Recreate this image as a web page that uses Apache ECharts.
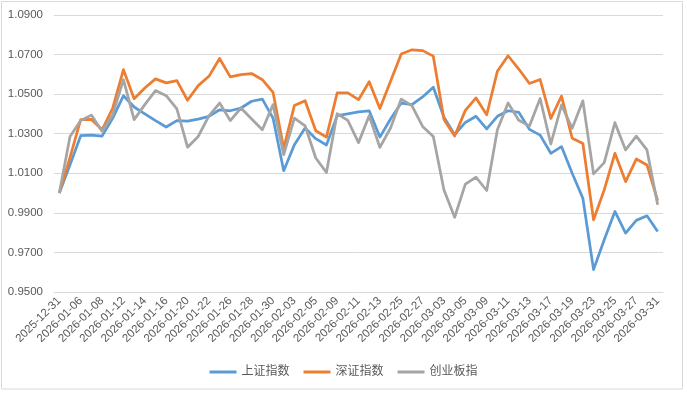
<!DOCTYPE html>
<html>
<head>
<meta charset="utf-8">
<script src="https://cdn.jsdelivr.net/npm/echarts@6/dist/echarts.min.js"></script>
<style>
html,body{margin:0;padding:0;background:#fff;}
#chart{width:687px;height:393px;}
</style>
</head>
<body>
<div id="chart"></div>
<script>
const dates = ['2025-12-31','2026-01-05','2026-01-06','2026-01-07','2026-01-08','2026-01-09','2026-01-12','2026-01-13','2026-01-14','2026-01-15','2026-01-16','2026-01-19','2026-01-20','2026-01-21','2026-01-22','2026-01-23','2026-01-26','2026-01-27','2026-01-28','2026-01-29','2026-01-30','2026-02-02','2026-02-03','2026-02-04','2026-02-05','2026-02-06','2026-02-09','2026-02-10','2026-02-11','2026-02-12','2026-02-13','2026-02-24','2026-02-25','2026-02-26','2026-02-27','2026-03-02','2026-03-03','2026-03-04','2026-03-05','2026-03-06','2026-03-09','2026-03-10','2026-03-11','2026-03-12','2026-03-13','2026-03-16','2026-03-17','2026-03-18','2026-03-19','2026-03-20','2026-03-23','2026-03-24','2026-03-25','2026-03-26','2026-03-27','2026-03-30','2026-03-31'];

const shIndex = [1.000,1.0143,1.029,1.0293,1.0288,1.0379,1.0492,1.0435,1.040,1.0366,
  1.0334,1.0366,1.0364,1.0374,1.0388,1.0421,1.0416,1.043,1.0464,1.0475,
  1.0379,1.0113,1.0244,1.0329,1.0275,1.0243,1.0391,1.040,1.041,1.0416,
  1.0283,1.0374,1.0455,1.0447,1.0486,1.0535,1.0383,1.0295,1.0357,1.0388,
  1.0324,1.0388,1.0416,1.0408,1.0322,1.0293,1.0201,1.0235,1.010,0.9974,
  0.9613,0.9764,0.9907,0.9798,0.9862,0.9885,0.9806];

const szIndex = [1.000,1.018,1.0371,1.0372,1.032,1.043,1.0624,1.0477,1.0531,1.0577,
  1.0557,1.0568,1.0469,1.0543,1.059,1.068,1.0587,1.0599,1.0604,1.0573,
  1.0509,1.0227,1.0442,1.0467,1.0315,1.0283,1.0506,1.0506,1.0472,1.0563,
  1.0427,1.0565,1.0703,1.0724,1.072,1.0692,1.0372,1.0288,1.0418,1.0481,
  1.0396,1.0616,1.0694,1.0627,1.0554,1.0574,1.0377,1.049,1.0277,1.0251,
  0.9865,1.0016,1.0201,1.0058,1.0172,1.0142,0.9962];

const cybIndex = [1.000,1.0286,1.0367,1.0394,1.0312,1.0396,1.0573,1.0371,1.0447,1.0518,
  1.0492,1.0425,1.0232,1.0286,1.039,1.0455,1.0366,1.043,1.0374,1.032,
  1.0447,1.0194,1.0379,1.034,1.0177,1.0104,1.0401,1.0367,1.0255,1.0391,
  1.0231,1.0329,1.0475,1.0442,1.0337,1.0286,1.0016,0.9878,1.0045,1.008,
  1.0013,1.032,1.0455,1.0368,1.0339,1.0478,1.0248,1.0445,1.0327,1.0466,
  1.0097,1.0154,1.0356,1.0218,1.0288,1.0218,0.9941];

const seriesNames = ['上证指数','深证指数','创业板指'];
const seriesColors = ['#5B9BD5','#ED7D31','#A5A5A5'];
const seriesData = [shIndex, szIndex, cybIndex];

const chart = echarts.init(document.getElementById('chart'), null, {renderer:'canvas'});
const font = '"Liberation Sans", Arial, "Noto Sans CJK SC", sans-serif';
chart.setOption({
  animation: false,
  textStyle: {fontFamily: font},
  grid: {left: 54, right: 24, top: 15, bottom: 101, containLabel: false},
  graphic: [{
    type: 'rect', silent: true,
    shape: {x: 1.5, y: 1.5, width: 681, height: 387.5},
    style: {fill: 'none', stroke: '#d9d9d9', lineWidth: 1}
  }],
  legend: {
    data: seriesNames,
    left: 'center',
    top: 361,
    icon: 'rect',
    itemWidth: 27,
    itemHeight: 3,
    itemGap: 14,
    textStyle: {color: '#595959', fontSize: 12, fontFamily: font}
  },
  xAxis: {
    type: 'category',
    data: dates,
    boundaryGap: true,
    axisLine: {show: true, lineStyle: {color: '#d9d9d9'}},
    axisTick: {show: false},
    axisLabel: {interval: 1, rotate: 45, color: '#595959', fontSize: 11.5, margin: 7, fontFamily: font}
  },
  yAxis: {
    type: 'value',
    min: 0.95,
    max: 1.09,
    interval: 0.02,
    axisLine: {show: false},
    axisTick: {show: false},
    splitLine: {lineStyle: {color: '#d9d9d9', width: 1}},
    axisLabel: {color: '#595959', fontSize: 11.5, margin: 11, fontFamily: font,
      formatter: v => v.toFixed(4)}
  },
  series: seriesNames.map((n, k) => ({
    name: n,
    type: 'line',
    data: seriesData[k],
    showSymbol: false,
    symbol: 'none',
    smooth: false,
    color: seriesColors[k],
    lineStyle: {width: 2.75, color: seriesColors[k], join: 'round'}
  }))
});
</script>
</body>
</html>
